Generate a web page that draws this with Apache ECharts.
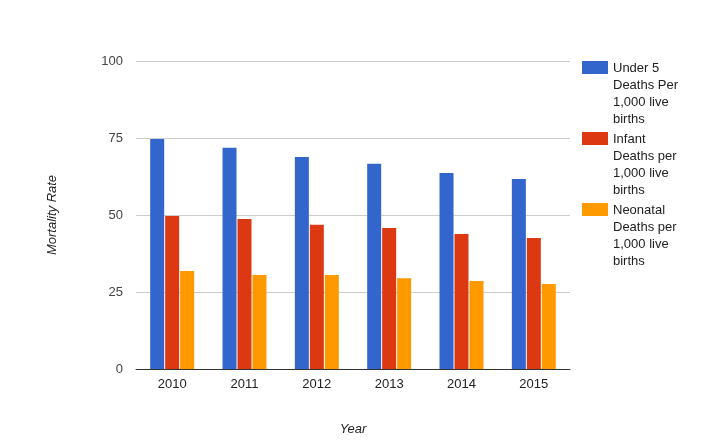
<!DOCTYPE html>
<html>
<head>
<meta charset="utf-8">
<script src="https://cdn.jsdelivr.net/npm/echarts@6/dist/echarts.min.js"></script>
<style>html,body{margin:0;padding:0;background:#fff}#c{width:714px;height:448px}</style>
</head>
<body>
<div id="c"></div>
<script>
const categories = ['2010', '2011', '2012', '2013', '2014', '2015'];
const seriesNames = ['Under 5 Deaths Per 1,000 live births', 'Infant Deaths per 1,000 live births', 'Neonatal Deaths per 1,000 live births'];
const legendLabels = ['Under 5\nDeaths Per\n1,000 live\nbirths', 'Infant\nDeaths per\n1,000 live\nbirths', 'Neonatal\nDeaths per\n1,000 live\nbirths'];
const under5 = [74.7, 71.8, 68.8, 66.6, 63.6, 61.7];
const infant = [49.7, 48.7, 46.8, 45.8, 43.8, 42.5];
const neonatal = [31.8, 30.5, 30.5, 29.5, 28.6, 27.6];
const colors = ['#3366cc', '#dc3912', '#ff9900'];
const yTicks = [0, 25, 50, 75, 100];

const chart = echarts.init(document.getElementById('c'));
const values = [under5, infant, neonatal];
chart.setOption({
  animation: false,
  textStyle: { fontFamily: 'Liberation Sans, Arial, sans-serif' },
  grid: { left: 136, right: 144, top: 61, bottom: 79 },
  legend: {
    orient: 'vertical',
    left: 582,
    top: 60,
    padding: 0,
    itemGap: 3,
    itemWidth: 26,
    itemHeight: 68,
    icon: 'path://M0,1H26V14H0Z M26,68L26,68Z M0,0L0,0Z',
    formatter: function (name) { return legendLabels[seriesNames.indexOf(name)]; },
    textStyle: { fontSize: 13, color: '#222', lineHeight: 17 },
    data: seriesNames
  },
  xAxis: {
    type: 'category',
    data: categories,
    name: 'Year',
    nameLocation: 'middle',
    nameGap: 54,
    nameTextStyle: { fontSize: 13, fontStyle: 'italic', color: '#222' },
    axisLine: { lineStyle: { color: '#333' } },
    axisTick: { show: false },
    axisLabel: { fontSize: 13, color: '#222', margin: 9 }
  },
  yAxis: {
    type: 'value',
    min: yTicks[0],
    max: yTicks[yTicks.length - 1],
    interval: 25,
    name: 'Mortality Rate',
    nameLocation: 'middle',
    nameGap: 77,
    nameTextStyle: { fontSize: 13, fontStyle: 'italic', color: '#222' },
    axisLine: { show: false },
    axisTick: { show: false },
    axisLabel: { fontSize: 13, color: '#444', margin: 13 },
    splitLine: { lineStyle: { color: '#ccc' } }
  },
  series: seriesNames.map((n, i) => ({
    name: n,
    type: 'bar',
    data: values[i],
    barWidth: 14,
    barGap: '7%',
    itemStyle: { color: colors[i] }
  }))
});
</script>
</body>
</html>
